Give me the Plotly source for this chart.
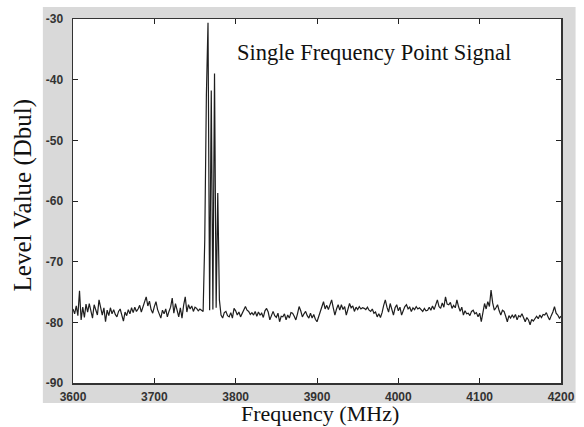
import plotly.graph_objects as go

# Frequency axis (MHz), 2 MHz step
freq_mhz = list(range(3600, 4201, 2))

# Level values (Dbul)
level_dbul = [
    -77.8, -78.6, -77.3, -78.9, -74.8, -79.6, -77.5, -79.2, -77.0, -78.3,
    -76.9, -78.4, -79.3, -77.1, -78.1, -78.8, -76.3, -77.9, -78.8, -77.6,
    -79.9, -78.0, -78.9, -77.6, -78.6, -77.9, -78.7, -79.1, -78.2, -77.8,
    -78.9, -79.8, -78.3, -78.9, -77.9, -78.6, -77.6, -78.4, -77.5, -78.2,
    -77.8, -77.2, -78.3, -77.5, -76.4, -75.8, -77.3, -76.5, -77.9, -78.5,
    -77.4, -76.6, -77.9, -78.6, -79.3, -78.0, -78.6, -77.8, -79.1, -78.2,
    -77.5, -76.0, -78.5, -76.9, -77.9, -79.1, -77.6, -79.3, -77.2, -75.8,
    -78.3, -77.1, -77.8, -77.3, -78.2, -77.5, -77.7, -78.1, -77.8, -78.0,
    -78.2, -66.4, -42.5, -30.6, -78.0, -41.8, -77.9, -39.0, -77.6, -58.7,
    -76.3, -78.8, -79.3, -78.4, -78.2, -78.9, -79.1, -78.4, -79.3, -77.7,
    -78.1, -78.8, -78.3, -79.1, -78.5, -77.9, -77.4, -78.0, -78.2, -78.7,
    -78.4, -78.8, -78.2, -79.0, -78.3, -78.8, -78.5, -79.2, -78.1, -77.7,
    -78.3, -79.6, -78.7, -78.2, -78.9, -79.2, -78.5, -79.9, -79.0, -79.1,
    -78.6, -79.6, -78.8, -79.3, -78.4, -78.5, -79.0, -79.6, -78.6, -77.4,
    -78.1, -79.1, -78.6, -78.2, -78.9, -79.3, -78.5, -79.3, -78.7, -79.5,
    -79.9, -79.0, -78.5, -77.6, -76.6, -77.8, -77.2, -77.9, -77.0, -76.3,
    -77.6, -78.8, -77.8, -77.1, -78.0, -77.1, -77.9, -77.4, -78.8, -77.9,
    -76.9, -77.6, -77.3, -78.2, -77.5, -77.9, -77.4, -77.8, -77.6, -77.7,
    -77.9, -77.5, -78.0, -78.2, -77.8, -78.5, -78.3, -79.1, -78.6, -79.2,
    -78.4, -77.2, -76.3, -77.5, -78.3, -76.9, -77.8, -78.8, -77.6, -77.1,
    -78.1, -77.5, -78.8, -77.9, -77.4, -77.1, -77.8, -77.5, -78.2, -77.6,
    -77.9, -77.4, -77.8, -77.6, -78.0, -78.2, -77.7, -78.1, -78.0, -77.5,
    -78.0, -77.3, -77.9, -76.9, -76.3, -77.4, -77.7, -76.8, -77.5, -75.8,
    -77.0, -77.1, -76.7, -77.7, -77.2, -77.6, -76.3, -77.4, -78.2, -77.5,
    -78.8, -78.1, -78.6, -78.5, -78.9, -78.2, -78.0, -78.6, -78.4, -79.1,
    -78.5, -79.9, -78.3, -76.9, -77.8, -76.6, -77.4, -74.7, -76.8, -78.0,
    -77.6, -77.1, -78.1, -78.8, -78.0, -78.2, -79.0, -79.9, -78.9, -79.3,
    -78.8, -79.2, -78.7, -79.6, -78.9, -79.1, -78.6, -79.4, -79.9, -79.2,
    -79.6, -80.4, -79.5, -79.8, -79.3, -79.0, -79.4, -78.8, -79.2, -78.7,
    -78.8, -78.4, -79.1, -79.6, -78.9, -78.3, -77.4, -78.5, -78.8, -79.3,
    -79.0,
]

x_ticks = [3600, 3700, 3800, 3900, 4000, 4100, 4200]
y_ticks = [-30, -40, -50, -60, -70, -80, -90]

fig = go.Figure()
fig.add_trace(go.Scatter(
    x=freq_mhz, y=level_dbul, mode="lines",
    line=dict(color="#1e1e1e", width=1.2),
    showlegend=False, hoverinfo="skip",
))

W, H = 584, 427
L, R, T, B = 73, 9, 19, 44
pw, ph = W - L - R, H - T - B

def px(x):
    return (x - L) / pw

def py(y):
    return (H - B - y) / ph

fig.update_layout(
    width=W, height=H, autosize=False,
    margin=dict(l=L, r=R, t=T, b=B, pad=0),
    paper_bgcolor="white",
    plot_bgcolor="white",
    shapes=[
        dict(type="rect", xref="paper", yref="paper",
             x0=px(42), x1=px(590), y0=py(403), y1=py(7),
             fillcolor="#d9d9d9", line=dict(width=0), layer="below"),
        dict(type="rect", xref="paper", yref="paper",
             x0=0, x1=1, y0=0, y1=1,
             fillcolor="white", line=dict(width=0), layer="below"),
    ],
    annotations=[
        dict(text="Single Frequency Point Signal", xref="paper", yref="paper",
             x=px(383), y=py(52), xanchor="center", yanchor="middle",
             showarrow=False,
             font=dict(family="Liberation Serif", size=22.5, color="#111")),
        dict(text="Frequency (MHz)", xref="paper", yref="paper",
             x=px(327), y=py(414), xanchor="center", yanchor="middle",
             showarrow=False,
             font=dict(family="Liberation Serif", size=22, color="#111")),
        dict(text="Level Value (Dbul)", xref="paper", yref="paper",
             x=px(22), y=py(195), xanchor="center", yanchor="middle",
             textangle=-90, showarrow=False,
             font=dict(family="Liberation Serif", size=25, color="#111")),
    ],
)

fig.update_xaxes(
    range=[3600, 4200], tickvals=x_ticks,
    ticktext=[str(v) for v in x_ticks],
    ticks="inside", ticklen=5, tickwidth=1, tickcolor="#222",
    showline=True, linecolor="#333", linewidth=1.5, mirror="ticks",
    showgrid=False, zeroline=False,
    tickfont=dict(family="Liberation Sans", size=12, color="#333", weight="bold"),
    ticklabelstandoff=2, ticklabeloverflow="allow",
)
fig.update_yaxes(
    range=[-90, -30], tickvals=y_ticks,
    ticktext=[str(v) for v in y_ticks],
    ticks="inside", ticklen=5, tickwidth=1, tickcolor="#222",
    showline=True, linecolor="#333", linewidth=1.5, mirror="ticks",
    showgrid=False, zeroline=False,
    tickfont=dict(family="Liberation Sans", size=12, color="#333", weight="bold"),
    ticklabelstandoff=6, ticklabeloverflow="allow",
)

fig.write_html(
    "out.html",
    config={"displayModeBar": False, "staticPlot": True},
    post_script="document.body.style.margin='0';",
)
